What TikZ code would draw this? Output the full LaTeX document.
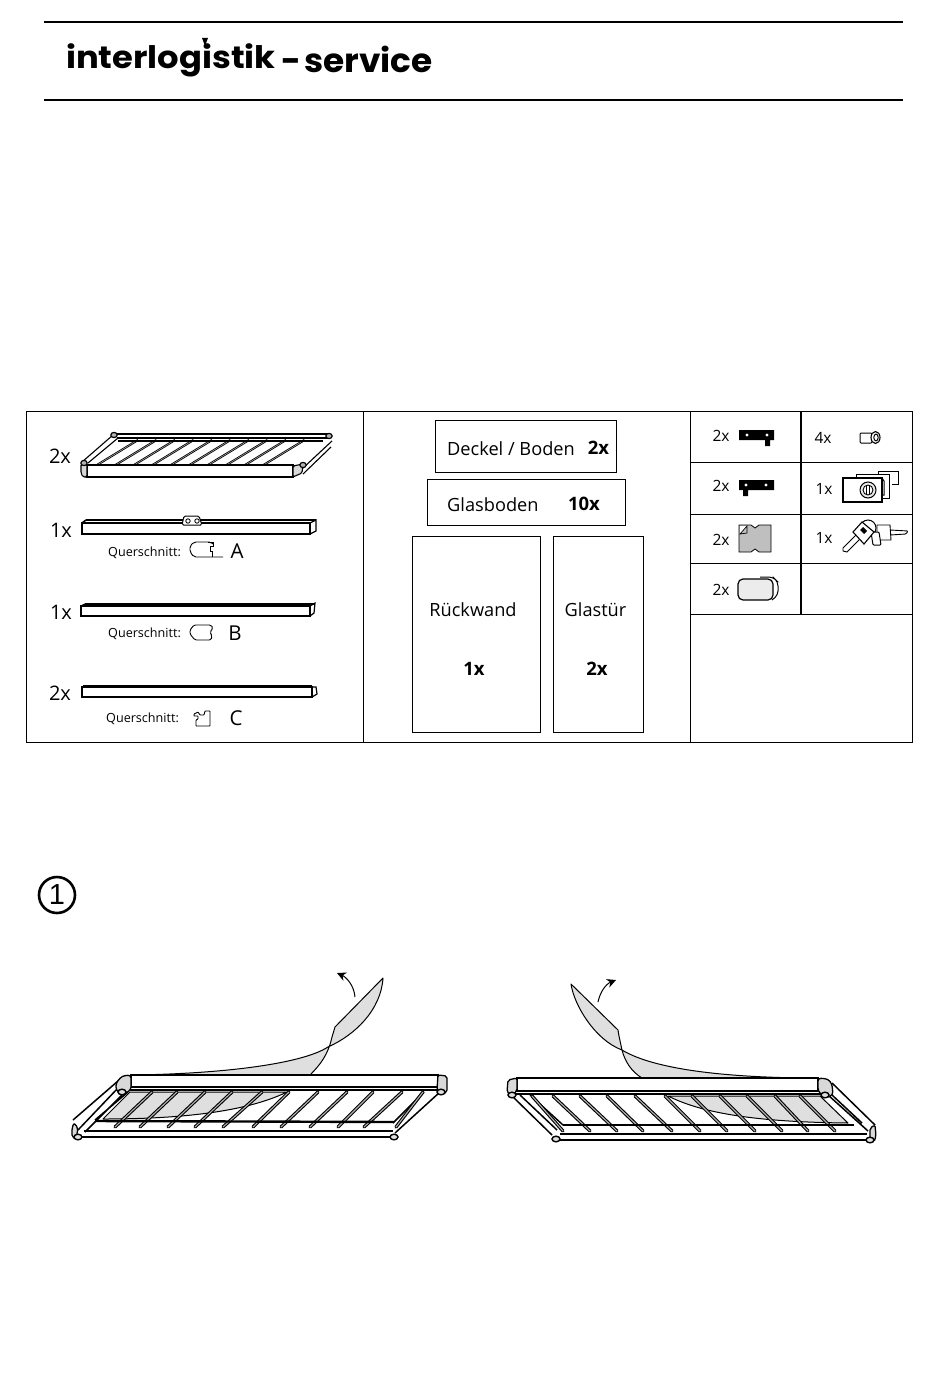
\documentclass[tikz,border=0pt]{standalone}
\usepackage{fontspec}
\usetikzlibrary{arrows.meta}
\setmainfont{Open Sans}
\newfontfamily\logofont{Poppins}
\newfontfamily\numfont{Liberation Sans}
\tikzset{
  hair/.style={line width=0.9pt},
  rung/.style={line width=1.1pt,draw=black,double=gray!60,double distance=1.1pt,line cap=round},
  rungsmall/.style={line width=0.8pt,draw=black,double=gray!60,double distance=0.5pt},
  film/.style={fill=gray!25,draw=black,line width=1pt,line join=round},
  partbox/.style={draw,line width=0.8pt,inner sep=0pt},
  cnt/.style={inner sep=0pt,font=\fontsize{20}{20}\selectfont},
  cntsmall/.style={inner sep=0pt,font=\fontsize{15.5}{16}\selectfont},
  boxtxt/.style={inner sep=0pt,font=\fontsize{18.2}{19}\selectfont},
  boxnum/.style={inner sep=0pt,font=\fontsize{18.5}{19}\selectfont\bfseries},
  quer/.style={inner sep=0pt,font=\fontsize{12.6}{13}\selectfont},
  letter/.style={inner sep=0pt,font=\fontsize{20.5}{20}\selectfont},
}
\begin{document}
\begin{tikzpicture}[x=1pt,y=-1pt,>=stealth]
\useasboundingbox (0,0) rectangle (950,1378);
%Kopf
\draw [line width=2pt] (44,22)--(903,22);
\draw [line width=2pt] (44,100)--(903,100);
\node (logoa) [inner sep=0pt,anchor=west] at (66,60) {\logofont\bfseries\fontsize{31}{31}\selectfont\scalebox{1.09}[1]{interlogistik}};
\node (logob) [inner sep=0pt,anchor=west] at (281,59) {\logofont\bfseries\fontsize{33}{33}\selectfont\scalebox{1.04}[1]{-\kern-4pt\ service}};
\fill (202,38)--(208,38)--(205,46)--cycle;
%Tabelle
\draw [hair] (26,411) rectangle (912,742);
\draw [hair] (363.5,411)--(363.5,742);
\draw [hair] (690.5,411)--(690.5,742);
\draw [line width=1.4pt] (801,411)--(801,614);
\foreach \y in {462,514,563,614}
  \draw [hair] (690.5,\y)--(912,\y);
%Kaesten Mitte
\node (deckel) [partbox,minimum width=181pt,minimum height=52pt] at (525.5,446) {};
\node (deckeltxt) [boxtxt,anchor=west] at (447,449) {Deckel / Boden};
\node (deckelnum) [boxnum] at (598.5,448) {2x};
\node (glas) [partbox,minimum width=198pt,minimum height=46pt] at (526,502) {};
\node (glastxt) [boxtxt,anchor=west] at (447,505) {Glasboden};
\node (glasnum) [boxnum] at (584,504) {10x};
\node (rueck) [partbox,minimum width=128pt,minimum height=196pt] at (476,634) {};
\node (ruecktxt) [boxtxt] at (473,610) {Rückwand};
\node (ruecknum) [boxnum] at (474,669) {1x};
\node (tuer) [partbox,minimum width=90pt,minimum height=196pt] at (598,634) {};
\node (tuertxt) [boxtxt] at (595.5,610) {Glastür};
\node (tuernum) [boxnum] at (597,669) {2x};
%Anzahl links
\node (na) [cnt] at (60,456) {2x};
\node (nb) [cnt] at (61,530) {1x};
\node (nc) [cnt] at (61,612) {1x};
\node (nd) [cnt] at (60,693) {2x};
%Regal oben links
\foreach \i in {0,...,9}
  \draw [rungsmall] ({97+18.5*\i},465)--({138+18.5*\i},440);
\draw [line width=1.1pt] (113,435)--(82,462) (118,438)--(88,463);
\draw [line width=1.1pt] (332,441)--(303,468) (331,447)--(303,474);
\draw [line width=1.4pt] (117,434)--(328,434);
\draw [line width=1.1pt] (117,438)--(328,438) (118,441)--(323,441);
\draw [fill=white,line width=1.2pt] (87,465)--(293,465)--(293,477)--(87,477)--cycle;
\draw [fill=gray!30,line width=1.1pt,rounded corners=1.5pt] (81,464)--(87,464)--(87,477)--(83,477)--(81,473)--cycle;
\draw [fill=gray!30,line width=1.1pt,rounded corners=1.5pt] (293,466)--(303,464)--(302,473)--(293,477)--cycle;
\foreach \x/\y in {114/435,84/463,303/465,329/436}
  \draw [fill=gray!60,line width=1.2pt] (\x,\y) circle [x radius=3.2pt,y radius=2.6pt];
%Profil A
\draw [line width=1.2pt] (82,523)--(310,523)--(310,534)--(82,534)--cycle;
\draw [line width=1.2pt] (310,523)--(316,520)--(316,531)--(310,534);
\draw [line width=1.2pt] (86,520)--(316,520);
\draw [line width=1.6pt] (82,523)--(86,520);
\draw [fill=white,line width=1pt,rounded corners=1.5pt] (182,525)--(184,516)--(199,516)--(202,525)--cycle;
\foreach \x in {188,197}
  \draw [line width=0.8pt] (\x,521) circle (2.2pt);
\node (qa) [quer,anchor=west] at (108,553) {Querschnitt:};
\node (la) [letter] at (237,551.5) {A};
\draw [line width=0.9pt,rounded corners=2pt] (223,557)--(194,557)--(190,552)--(190,546)--(194,542)--(211,542)--(213,544);
\draw [line width=0.9pt] (208,542)--(213,542)--(213,546)--(210,546)--(210,551)--(212,551)--(212,557);
%Profil B
\draw [line width=1.2pt] (81,606)--(310,606)--(310,616)--(81,616)--cycle;
\draw [line width=1.2pt] (310,606)--(315,603)--(314,613)--(310,616);
\draw [line width=1.6pt] (85,604)--(315,604);
\draw [line width=1.2pt] (81,606)--(85,604);
\node (qb) [quer,anchor=west] at (108,634) {Querschnitt:};
\node (lb) [letter] at (235,633) {B};
\draw [line width=0.9pt,rounded corners=1.5pt] (194,625)--(211,625)--(213,628)--(210,632)--(212,636)--(211,640)--(195,640)--(190,634)--(190,630)--cycle;
%Profil C
\draw [line width=1.2pt] (82,687)--(312,687)--(312,697)--(82,697)--cycle;
\draw [line width=1.2pt] (312,697)--(317,694)--(316,687)--(312,687);
\draw [line width=1.6pt] (83,686)--(312,686);
\node (qc) [quer,anchor=west] at (106,719) {Querschnitt:};
\node (lc) [letter] at (236,718.5) {C};
\draw [line width=0.9pt,rounded corners=0.6pt] (194,714)--(198,712)--(200,715)--(204,715)--(205,711)--(210,711)--(210,726)--(196,726)--(196,720)--(198,719)--(198,716)--(194,716)--cycle;
%Rechte Spalte
\node (ra) [cntsmall] at (721,436) {2x};
\node (rb) [cntsmall] at (721,486) {2x};
\node (rc) [cntsmall] at (721,540) {2x};
\node (rd) [cntsmall] at (721,590) {2x};
\node (re) [cntsmall] at (823,438) {4x};
\node (rf) [cntsmall] at (824,489) {1x};
\node (rg) [cntsmall] at (824,538) {1x};
%Beschlag 1 und 2
\fill (739,430) rectangle (774,440) (765,440) rectangle (770,446);
\fill (739,480) rectangle (774,490) (743,490) rectangle (748,496);
\foreach \x/\y in {747/435,767/435,746/485,766/485}
  \fill [white] (\x,\y) circle (1.6pt);
%Platte
\draw [fill=gray!50,line width=0.8pt] (739,525)--(751,525)--(755,528)--(759,525)--(771,525)--(771,552)--(759,552)--(755,549)--(751,552)--(739,552)--cycle;
\fill [white] (740,526)--(747,526)--(740,534)--cycle;
\draw [line width=0.7pt] (740,534)--(747,526)--(747,533)--cycle;
%Griff
\draw [line width=1pt,rounded corners=4pt] (760,577)--(773,577)--(778,582)--(778,595)--(772,600);
\draw [fill=gray!15,line width=1.2pt,rounded corners=5pt] (738,579) rectangle (773,600);
%Niete
\draw [fill=white,line width=1pt,rounded corners=1pt] (860,433)--(872,433)--(872,443)--(860,443)--cycle;
\draw [fill=white,line width=1.1pt] (875.5,437.5) ellipse (4.5pt and 6pt);
\draw [line width=1pt] (876,437.5) ellipse (2.2pt and 3.4pt);
%Schloss
\draw [line width=1pt] (878,474)--(878,471)--(898,471)--(898,484)--(892,484);
\draw [line width=1pt,fill=white] (856,478)--(856,474)--(889,474)--(889,498)--(882,498);
\draw [line width=1pt,fill=white] (882,478)--(884,481)--(884,495)--(882,495);
\draw [line width=1.1pt,fill=white] (843,478) rectangle (882,502);
\draw [line width=1pt,fill=gray!15] (868,490) circle (8pt);
\draw [line width=0.9pt,fill=white] (868,490) circle (5pt);
\draw [line width=0.8pt] (866.8,486)--(866.8,494) (869.2,486)--(869.2,494);
%Schluessel
\draw [line width=0.9pt,fill=white,rounded corners=1pt] (890,530)--(908,531)--(906,534)--(890,535)--cycle;
\draw [line width=0.9pt,fill=white] (877,525)--(890,525)--(891,540)--(877,540)--cycle;
\draw [line width=1pt] (868,528) circle [x radius=8pt,y radius=8pt];
\draw [line width=1pt,fill=white,rounded corners=1pt] (871,532)--(873,545)--(881,545)--(879,532)--cycle;
\draw [line width=0.9pt,fill=white] (851,540)--(857,534)--(861,538)--(847,552)--(843,551)--(843,548)--cycle;
\draw [line width=1.1pt,fill=white] (853,532)--(862,522)--(874,532)--(864,544)--cycle;
\fill (860,530)--(863,527)--(867,531)--(864,534)--cycle;
%Schritt 1
\draw [line width=2.6pt] (57,895) circle (18pt);
\node (stepnum) [inner sep=0pt] at (57,895) {\numfont\fontsize{29}{29}\selectfont 1};
%Folie links
\draw [film] (383,978)..controls (381,1010) and (355,1035)..(328,1047)
  ..controls (300,1065) and (215,1074)..(132,1075)--(310,1075)
  ..controls (320,1065) and (328,1055)..(332,1037)--(335,1027)--cycle;
\draw [film] (130,1092)--(287,1092)..controls (250,1110) and (190,1119)..(103,1119)--cycle;
\draw [-{Stealth[length=9pt,width=9pt]},line width=1pt] (355,997)..controls (354,985) and (346,977)..(337,973);
%Regal links
\draw [line width=1.5pt] (118,1081)--(73,1120) (118,1088)--(78,1130) (122,1095)--(85,1132) (128,1092)--(95,1120);
\draw [line width=1.5pt] (440,1092)--(395,1133) (424,1092)--(393,1123);
\foreach \a/\b in {152/115,177/140,205/168,232/195,262/223,289/253,318/281,347/310,373/338,402/364,423/396}
  \draw [rung] (\a,1092)--(\b,1127);
\draw [line width=2.4pt] (95,1121)--(394,1122);
\draw [line width=1.6pt] (84,1131)--(393,1131);
\draw [line width=1.6pt] (76,1137)--(393,1137);
\draw [line width=1.5pt,fill=white] (131,1075)--(438,1075)--(438,1087)--(131,1087)--cycle;
\draw [line width=2.4pt] (128,1090)--(440,1090);
\draw [line width=1.3pt,fill=gray!30,rounded corners=3pt] (131,1075)--(122,1076)--(116,1083)--(116,1090)--(122,1095)--(131,1090)--cycle;
\draw [line width=1.3pt,fill=gray!30,rounded corners=2pt] (438,1075)--(447,1076)--(447,1092)--(441,1095)--(437,1090)--cycle;
\draw [line width=1.3pt,fill=gray!30,rounded corners=2pt] (74,1123)--(72,1128)--(72,1137)--(76,1139)--(78,1128)--cycle;
\foreach \x/\y in {122/1092,441/1092,78/1137,394/1137}
  \draw [fill=gray!25,line width=1.4pt] (\x,\y) circle [x radius=4pt,y radius=2.8pt];
%Folie rechts
\draw [film] (571,984)..controls (574,1005) and (595,1040)..(622,1050)
  ..controls (655,1070) and (730,1078)..(817,1078)--(642,1078)
  ..controls (632,1072) and (625,1062)..(622,1050)--(619,1036)--(618,1030)--cycle;
\draw [film] (820,1096)--(668,1096)..controls (700,1112) and (750,1122)..(848,1123)--cycle;
\draw [-{Stealth[length=9pt,width=9pt]},line width=1pt] (598,1002)..controls (600,992) and (606,984)..(616,980);
%Regal rechts
\draw [line width=1.5pt] (511,1095)--(552,1135) (530,1095)--(563,1125) (520,1095)--(557,1130);
\draw [line width=1.5pt] (832,1083)--(875,1125) (832,1095)--(862,1123) (828,1095)--(868,1131);
\foreach \a/\b in {532/563,553/590,580/617,607/643,635/672,665/700,692/727,720/755,747/782,775/808,800/835}
  \draw [rung] (\a,1096)--(\b,1131);
\draw [line width=2.2pt] (563,1125)--(854,1125);
\draw [line width=1.6pt] (560,1134)--(867,1134);
\draw [line width=1.6pt] (560,1140)--(868,1140);
\draw [line width=1.5pt,fill=white] (517,1078)--(818,1078)--(818,1091)--(517,1091)--cycle;
\draw [line width=2.4pt] (512,1094)--(830,1094);
\draw [line width=1.3pt,fill=gray!30,rounded corners=2pt] (517,1078)--(508,1080)--(507,1092)--(511,1096)--(517,1091)--cycle;
\draw [line width=1.3pt,fill=gray!30,rounded corners=3pt] (818,1078)--(828,1079)--(832,1084)--(833,1095)--(825,1098)--(818,1091)--cycle;
\draw [line width=1.3pt,fill=gray!30,rounded corners=2pt] (875,1125)--(876,1136)--(874,1142)--(870,1141)--(870,1128)--cycle;
\foreach \x/\y in {512/1095,825/1095,556/1139,870/1140}
  \draw [fill=gray!25,line width=1.4pt] (\x,\y) circle [x radius=4pt,y radius=2.8pt];
\end{tikzpicture}
\end{document}
